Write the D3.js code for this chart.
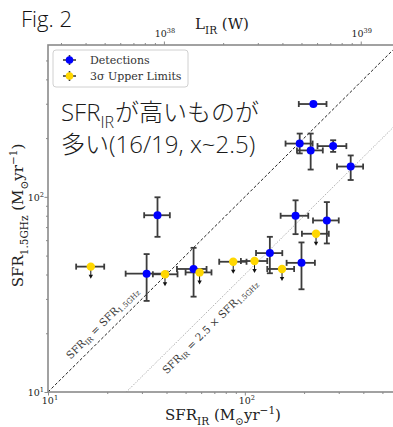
<!DOCTYPE html>
<html>
<head>
<meta charset="utf-8">
<script src="https://cdn.jsdelivr.net/npm/d3@7"></script>
<style>
body { margin: 0; background: #fff; }
svg { display: block; }
</style>
</head>
<body>
<svg width="393" height="427"></svg>
<script>
// detections (SFR_IR, SFR_1.5GHz) with error ranges
var detX   = [36, 31.7, 54.9, 181, 261, 134, 194, 223, 190, 216, 281, 345];
var detY   = [80.5, 40.4, 42.7, 80, 75.7, 51.5, 45.9, 299, 187.5, 173, 182, 143];
var detXlo = [30.8, 24.8, 45.2, 152, 222, 114, 163, 188, 161, 184, 234, 294];
var detXhi = [41.6, 40.5, 63.9, 210, 300, 155, 227, 260, 221, 249, 328, 399];
var detYlo = [62.4, 29.3, 30.8, 64.4, 57.7, 40.6, 33.6, 299, 167, 138, 170, 122];
var detYhi = [99.5, 50.9, 54.8, 96, 94, 62.4, 58.4, 299, 211, 211, 195, 163];

// 3 sigma upper limits
var ulX   = [16.5, 39.3, 58.9, 87.3, 112, 154.5, 230];
var ulY   = [43.9, 40.1, 41.0, 46.5, 46.9, 42.7, 64.7];
var ulXlo = [13.9, 34.1, 50, 74.1, 95.5, 130, 195];
var ulXhi = [19.3, 45.5, 67.7, 102, 130, 178, 267];

// ticks
var majorTicks = [10, 100];
var minorTicks = [20, 30, 40, 50, 60, 70, 80, 90, 200, 300, 400, 500];
var topMajor = [1e38, 1e39];
var topMinor = [3e37, 4e37, 5e37, 6e37, 7e37, 8e37, 9e37, 2e38, 3e38, 4e38, 5e38, 6e38, 7e38, 8e38, 9e38, 2e39];
var lirFactor = 3.88e-37; // SFR per W

var svg = d3.select('svg');
var pL = 48, pR = 398, pT = 45, pB = 392;
var serif = '"DejaVu Serif", serif';

var x = d3.scaleLog().domain([10, 600]).range([pL, pR]);
var y = d3.scaleLog().domain([10, 600]).range([pB, pT]);
var xTop = d3.scaleLog().domain([10 / lirFactor, 600 / lirFactor]).range([pL, pR]);

// text with sub / superscripts
function rich(t, parts, size) {
  var shift = 0;
  parts.forEach(function(p) {
    var target = p[1] === 'sub' ? size * 0.3 : p[1] === 'sup' ? -size * 0.4 : 0;
    var s = t.append('tspan').text(p[0]).attr('dy', target - shift);
    if (p[1] !== 'n') s.attr('font-size', size * 0.7);
    shift = target;
  });
}

// title
svg.append('text').attr('x', 21).attr('y', 27)
  .attr('font-family', '"Open Sans", "Noto Sans", sans-serif').attr('font-weight', 300)
  .attr('font-size', 22).attr('fill', '#111').text('Fig. 2');

// diagonal lines
svg.append('clipPath').attr('id', 'plot').append('rect')
  .attr('x', pL).attr('y', pT).attr('width', pR - pL).attr('height', pB - pT);
var plot = svg.append('g').attr('clip-path', 'url(#plot)');
var line = d3.line().x(function(d) { return x(d[0]); }).y(function(d) { return y(d[1]); });
plot.append('path').datum([[10, 10], [600, 600]]).attr('d', line)
  .attr('stroke', '#222').attr('stroke-width', 1).attr('stroke-dasharray', '3,2').attr('fill', 'none');
plot.append('path').datum([[25, 10], [600, 240]]).attr('d', line)
  .attr('stroke', '#999').attr('stroke-width', 1).attr('stroke-dasharray', '1,1.5').attr('fill', 'none');

var ang = Math.atan2(y(100) - y(10), x(100) - x(10)) * 180 / Math.PI;
function diagLabel(cx, cy, off, parts) {
  var px = x(cx), py = y(cy);
  var g = svg.append('g').attr('transform', 'translate(' + px + ',' + py + ') rotate(' + ang + ') translate(0,' + off + ')');
  var t = g.append('text').attr('text-anchor', 'middle').attr('dominant-baseline', 'central')
    .attr('font-family', serif).attr('font-size', 10.5).attr('fill', '#3a3a3a');
  rich(t, parts, 10.5);
}
diagLabel(20.6, 20.6, -11, [['SFR', 'n'], ['IR', 'sub'], [' = SFR', 'n'], ['1.5GHz', 'sub']]);
diagLabel(60, 60 / 2.5, 12, [['SFR', 'n'], ['IR', 'sub'], [' = 2.5 \u00d7 SFR', 'n'], ['1.5GHz', 'sub']]);

// error bars
var eb = svg.append('g').attr('stroke', '#3c3c3c').attr('stroke-width', 1.8).attr('fill', 'none');
var cap = 3;
detX.forEach(function(d, i) {
  var cx = x(d), cy = y(detY[i]);
  eb.append('line').attr('x1', x(detXlo[i])).attr('x2', x(detXhi[i])).attr('y1', cy).attr('y2', cy);
  eb.append('line').attr('x1', x(detXlo[i])).attr('x2', x(detXlo[i])).attr('y1', cy - cap).attr('y2', cy + cap);
  eb.append('line').attr('x1', x(detXhi[i])).attr('x2', x(detXhi[i])).attr('y1', cy - cap).attr('y2', cy + cap);
  if (detYhi[i] !== detYlo[i]) {
    eb.append('line').attr('x1', cx).attr('x2', cx).attr('y1', y(detYlo[i])).attr('y2', y(detYhi[i]));
    eb.append('line').attr('x1', cx - cap).attr('x2', cx + cap).attr('y1', y(detYlo[i])).attr('y2', y(detYlo[i]));
    eb.append('line').attr('x1', cx - cap).attr('x2', cx + cap).attr('y1', y(detYhi[i])).attr('y2', y(detYhi[i]));
  }
});
ulX.forEach(function(d, i) {
  var cy = y(ulY[i]);
  eb.append('line').attr('x1', x(ulXlo[i])).attr('x2', x(ulXhi[i])).attr('y1', cy).attr('y2', cy);
  eb.append('line').attr('x1', x(ulXlo[i])).attr('x2', x(ulXlo[i])).attr('y1', cy - cap).attr('y2', cy + cap);
  eb.append('line').attr('x1', x(ulXhi[i])).attr('x2', x(ulXhi[i])).attr('y1', cy - cap).attr('y2', cy + cap);
});

// upper limit arrows
var arr = svg.append('g');
ulX.forEach(function(d, i) {
  var cx = x(d), cy = y(ulY[i]);
  arr.append('line').attr('x1', cx).attr('x2', cx).attr('y1', cy).attr('y2', cy + 9)
    .attr('stroke', '#111').attr('stroke-width', 1);
  arr.append('path').attr('d', 'M' + (cx - 2.2) + ',' + (cy + 8) + 'L' + (cx + 2.2) + ',' + (cy + 8) + 'L' + cx + ',' + (cy + 12) + 'Z')
    .attr('fill', '#111');
});

// markers
svg.append('g').selectAll('circle.det').data(detX).enter().append('circle')
  .attr('cx', function(d) { return x(d); })
  .attr('cy', function(d, i) { return y(detY[i]); })
  .attr('r', 4).attr('fill', '#0000ff');
svg.append('g').selectAll('circle.ul').data(ulX).enter().append('circle')
  .attr('cx', function(d) { return x(d); })
  .attr('cy', function(d, i) { return y(ulY[i]); })
  .attr('r', 4.2).attr('fill', '#ffd700');

// frame
svg.append('rect').attr('x', pL).attr('y', pT).attr('width', pR - pL).attr('height', pB - pT)
  .attr('fill', 'none').attr('stroke', '#8a8a8a').attr('stroke-width', 1.6);

// axes ticks
function ticks(axis, pos, vals, size) {
  var g = svg.append('g').attr('transform', pos)
    .call(axis.tickValues(vals).tickSize(size).tickFormat(''));
  g.select('.domain').remove();
  g.selectAll('line').attr('stroke', '#8a8a8a').attr('stroke-width', 1);
}
ticks(d3.axisBottom(x), 'translate(0,' + pB + ')', minorTicks, 2);
ticks(d3.axisBottom(x), 'translate(0,' + pB + ')', majorTicks, 3.5);
ticks(d3.axisLeft(y), 'translate(' + pL + ',0)', minorTicks, 2);
ticks(d3.axisLeft(y), 'translate(' + pL + ',0)', majorTicks, 3.5);
ticks(d3.axisTop(xTop), 'translate(0,' + pT + ')', topMinor, 2);
ticks(d3.axisTop(xTop), 'translate(0,' + pT + ')', topMajor, 3.5);

// tick labels
function powLabel(px, py, anchor, exp) {
  var t = svg.append('text').attr('x', px).attr('y', py).attr('text-anchor', anchor)
    .attr('font-family', serif).attr('font-size', 9.5).attr('fill', '#222');
  rich(t, [['10', 'n'], [String(exp), 'sup']], 9.5);
}
majorTicks.forEach(function(v) {
  powLabel(x(v) + 2, pB + 12, 'middle', Math.round(Math.log10(v)));
  powLabel(pL - 4, y(v) + 4, 'end', Math.round(Math.log10(v)));
});
topMajor.forEach(function(v) {
  powLabel(xTop(v) + 1, pT - 8, 'middle', Math.round(Math.log10(v)));
});

// axis titles
var midX = (pL + pR) / 2;
rich(svg.append('text').attr('x', midX).attr('y', 420).attr('text-anchor', 'middle')
  .attr('font-family', serif).attr('font-size', 15).attr('fill', '#222'),
  [['SFR', 'n'], ['IR', 'sub'], [' (M', 'n'], ['\u2299', 'sub'], ['yr', 'n'], ['\u22121', 'sup'], [')', 'n']], 15);
rich(svg.append('text').attr('x', midX - 1).attr('y', 29).attr('text-anchor', 'middle')
  .attr('font-family', serif).attr('font-size', 15).attr('fill', '#222'),
  [['L', 'n'], ['IR', 'sub'], [' (W)', 'n']], 15);
rich(svg.append('text').attr('transform', 'translate(23,' + ((pT + pB) / 2 - 3) + ') rotate(-90)')
  .attr('text-anchor', 'middle')
  .attr('font-family', serif).attr('font-size', 15).attr('fill', '#222'),
  [['SFR', 'n'], ['1.5GHz', 'sub'], [' (M', 'n'], ['\u2299', 'sub'], ['yr', 'n'], ['\u22121', 'sup'], [')', 'n']], 15);

// legend
var lg = svg.append('g');
lg.append('rect').attr('x', 53).attr('y', 50).attr('width', 135).attr('height', 37).attr('rx', 3)
  .attr('fill', '#fff').attr('stroke', '#d0d0d0').attr('stroke-width', 1);
[['Detections', '#0000ff', 60], ['3\u03c3 Upper Limits', '#ffd700', 76]].forEach(function(e) {
  lg.append('line').attr('x1', 63).attr('x2', 76).attr('y1', e[2]).attr('y2', e[2]).attr('stroke', '#3c3c3c').attr('stroke-width', 1.6);
  lg.append('line').attr('x1', 69.5).attr('x2', 69.5).attr('y1', e[2] - 5).attr('y2', e[2] + 5).attr('stroke', '#3c3c3c').attr('stroke-width', 1.6);
  lg.append('circle').attr('cx', 69.5).attr('cy', e[2]).attr('r', 3.8).attr('fill', e[1]);
  lg.append('text').attr('x', 90).attr('y', e[2] + 4).attr('font-family', serif).attr('font-size', 11)
    .attr('fill', '#333').text(e[0]);
});

// annotation
var note = svg.append('text').attr('font-family', '"Open Sans", "Noto Sans CJK JP", sans-serif')
  .attr('font-weight', 300).attr('font-size', 24).attr('fill', '#1a1a1a');
note.append('tspan').attr('x', 61).attr('y', 121).text('SFR');
note.append('tspan').attr('dy', 7).attr('font-size', 16).text('IR');
note.append('tspan').attr('dy', -7).attr('dx', 1).text('\u304c\u9ad8\u3044\u3082\u306e\u304c');
note.append('tspan').attr('x', 61).attr('y', 153).text('\u591a\u3044(16/19, x~2.5)');
</script>
</body>
</html>
